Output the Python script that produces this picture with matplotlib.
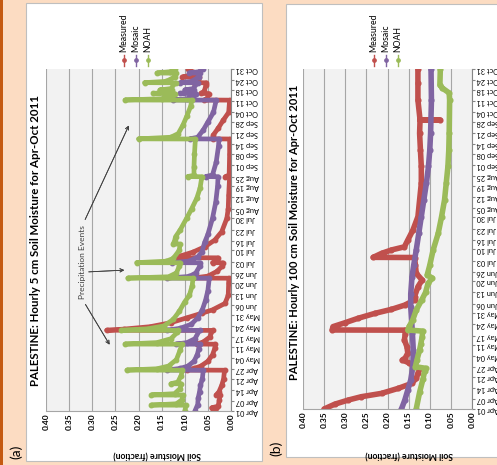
import matplotlib
matplotlib.use("Agg")
import matplotlib.pyplot as plt
from matplotlib.patches import Rectangle
from matplotlib.lines import Line2D

plt.rcParams["font.family"] = ["Lato", "DejaVu Sans"]

# time axis: days since 2011-04-01 00:00
tick_days = [0, 6, 13, 20, 26, 33, 40, 46, 53, 60, 66, 73, 80, 86, 93, 100, 106, 113, 120,
             126, 133, 140, 146, 153, 160, 166, 173, 180, 186, 193, 200, 206, 213]
tick_labels = ["Apr 01", "Apr 07", "Apr 14", "Apr 21", "Apr 27", "May 04", "May 11", "May 17",
               "May 24", "May 31", "Jun 06", "Jun 13", "Jun 20", "Jun 26", "Jul 03", "Jul 10",
               "Jul 16", "Jul 23", "Jul 30", "Aug 05", "Aug 12", "Aug 19", "Aug 25", "Sep 01",
               "Sep 08", "Sep 14", "Sep 21", "Sep 28", "Oct 04", "Oct 11", "Oct 18", "Oct 24",
               "Oct 31"]
sm_ticks = [0.0, 0.05, 0.10, 0.15, 0.20, 0.25, 0.30, 0.35, 0.40]
series_names = ["Measured", "Mosaic", "NOAH"]
colors = ["#C0504D", "#8064A2", "#9BBB59"]

# ---- 5 cm ----
meas5_t = [0, 1.9, 2.0, 3, 7, 9.9, 10.0, 12, 16, 20, 25.4, 25.5, 26.5, 28, 31, 35, 39, 41.6, 41.7,
           43, 46, 50.2, 50.3, 51, 52.5, 55, 58, 61, 63, 67, 72, 80, 82.7, 82.8, 84, 87, 90, 92.3,
           92.4, 93.5, 95.4, 95.5, 96.5, 99, 102.4, 106.5, 111.7, 120, 126, 134.5, 145.9, 146,
           147, 160, 169.4, 169.5, 172, 176, 181, 186, 193.6, 193.7, 194.5, 197.7, 197.8, 199,
           203, 204.4, 204.5, 206, 207.9, 208, 209, 211, 213]
meas5_v = [0.035, 0.033, 0.042, 0.028, 0.025, 0.024, 0.032, 0.026, 0.020, 0.016, 0.014, 0.096,
           0.080, 0.065, 0.050, 0.040, 0.035, 0.034, 0.074, 0.060, 0.046, 0.040, 0.269, 0.232,
           0.175, 0.130, 0.096, 0.062, 0.040, 0.013, 0.006, 0.005, 0.005, 0.082, 0.050, 0.030,
           0.020, 0.018, 0.040, 0.030, 0.028, 0.123, 0.110, 0.082, 0.056, 0.035, 0.020, 0.009,
           0.006, 0.005, 0.003, 0.012, 0.004, 0.003, 0.003, 0.040, 0.038, 0.028, 0.017, 0.005,
           0.003, 0.058, 0.052, 0.048, 0.065, 0.058, 0.054, 0.053, 0.080, 0.072, 0.070, 0.105,
           0.090, 0.082, 0.092]

mos5_t = [0, 4, 8, 12, 16, 20, 25.4, 25.5, 26.5, 28, 31, 35, 38.5, 41.6, 41.7, 42.6, 45, 50.2,
          50.3, 51.5, 54, 58, 63, 69, 75, 82.7, 82.8, 83.8, 86, 90, 92.3, 92.4, 93.4, 96, 99,
          105, 110, 120, 130, 140, 145.9, 146, 147, 155, 165, 169.4, 169.5, 170.5, 175, 180,
          186, 193.6, 193.7, 194.5, 196.5, 197.7, 197.8, 198.6, 199.9, 200.0, 200.8, 204.4,
          204.5, 205.3, 208, 210.4, 210.5, 211.3, 213]
mos5_v = [0.078, 0.072, 0.071, 0.068, 0.066, 0.062, 0.060, 0.139, 0.110, 0.093, 0.080, 0.073,
          0.070, 0.068, 0.118, 0.095, 0.078, 0.068, 0.139, 0.110, 0.086, 0.072, 0.062, 0.055,
          0.050, 0.047, 0.139, 0.090, 0.076, 0.068, 0.066, 0.128, 0.090, 0.072, 0.063, 0.057,
          0.050, 0.040, 0.033, 0.029, 0.028, 0.055, 0.040, 0.032, 0.027, 0.026, 0.089, 0.072,
          0.060, 0.050, 0.038, 0.032, 0.125, 0.095, 0.080, 0.076, 0.110, 0.088, 0.080, 0.100,
          0.082, 0.072, 0.110, 0.085, 0.070, 0.066, 0.090, 0.070, 0.060]

noah5_t = [0, 3.6, 3.7, 4.5, 7, 9.9, 10.0, 10.8, 14, 16.9, 17.0, 18, 22, 25.4, 25.5, 26.3, 28,
           32, 38, 41.6, 41.7, 42.6, 45, 49, 50.2, 50.3, 51.2, 53, 57, 62, 68, 72, 78, 82.7,
           82.8, 83.6, 86, 90, 92.3, 92.4, 93.3, 95, 100, 103.9, 104, 106, 108.5, 112.7, 120,
           126, 132.5, 138.7, 145.9, 146, 146.8, 152, 160, 169.4, 169.5, 170.5, 172.8, 178, 184,
           190, 193.6, 193.7, 194.5, 196.5, 197.7, 197.8, 198.6, 199.9, 200.0, 200.8, 204.4,
           204.5, 205.3, 208, 210.4, 210.5, 211.3, 213]
noah5_v = [0.100, 0.097, 0.172, 0.118, 0.106, 0.104, 0.172, 0.122, 0.110, 0.108, 0.130, 0.115,
           0.108, 0.105, 0.225, 0.160, 0.135, 0.118, 0.110, 0.106, 0.229, 0.160, 0.130, 0.116,
           0.114, 0.237, 0.180, 0.145, 0.125, 0.112, 0.100, 0.090, 0.084, 0.082, 0.223, 0.135,
           0.118, 0.112, 0.110, 0.204, 0.140, 0.125, 0.112, 0.110, 0.125, 0.122, 0.120, 0.110,
           0.096, 0.085, 0.074, 0.067, 0.063, 0.094, 0.080, 0.080, 0.079, 0.077, 0.200, 0.130,
           0.114, 0.104, 0.095, 0.087, 0.085, 0.229, 0.150, 0.125, 0.122, 0.168, 0.135, 0.128,
           0.154, 0.130, 0.120, 0.187, 0.140, 0.122, 0.120, 0.160, 0.132, 0.121]

# ---- 100 cm ----
meas100_t = [0, 3, 5.6, 7.7, 9.8, 12.9, 16, 19.2, 22.3, 25, 27, 29, 30.7, 32, 35, 39, 43.2, 47,
             49.4, 49.5, 51.6, 54, 56.8, 59.9, 62.4, 65.1, 68.3, 70.4, 76.6, 80.8, 85, 90.2, 94.9,
             95, 97.5, 99.6, 101.6, 105.8, 112, 120.5, 131, 141.4, 152, 162, 172.7, 180.9, 181,
             181.2, 193.5, 204, 213]
meas100_v = [0.350, 0.325, 0.293, 0.262, 0.214, 0.175, 0.143, 0.132, 0.128, 0.125, 0.135, 0.150,
             0.165, 0.158, 0.152, 0.154, 0.160, 0.158, 0.158, 0.331, 0.329, 0.301, 0.270, 0.230,
             0.191, 0.159, 0.136, 0.136, 0.128, 0.118, 0.132, 0.134, 0.136, 0.234, 0.214, 0.191,
             0.160, 0.152, 0.140, 0.128, 0.124, 0.120, 0.120, 0.122, 0.124, 0.123, 0.075, 0.123,
             0.128, 0.128, 0.128]

mos100_t = [0, 5.6, 11.9, 18.2, 26.5, 37, 47.4, 55.8, 64, 72, 82.9, 90, 99.6, 110, 120.5, 131,
            141.4, 152, 162, 172.7, 193.5, 213]
mos100_v = [0.167, 0.159, 0.152, 0.145, 0.140, 0.139, 0.141, 0.143, 0.145, 0.145, 0.142, 0.138,
            0.132, 0.126, 0.120, 0.114, 0.108, 0.103, 0.100, 0.098, 0.096, 0.097]

noah100_t = [0, 10.5, 18.8, 24, 25.5, 26.5, 31, 37, 41, 45.3, 48.8, 49.5, 52, 56, 62, 68.3, 73,
             78.7, 82, 84, 90, 99.6, 110, 120.5, 131, 141.4, 152, 162, 172.7, 193.5, 198, 201,
             203, 213]
noah100_v = [0.132, 0.124, 0.116, 0.112, 0.110, 0.134, 0.130, 0.124, 0.121, 0.118, 0.117, 0.152,
             0.148, 0.140, 0.132, 0.119, 0.110, 0.104, 0.094, 0.106, 0.100, 0.092, 0.080, 0.072,
             0.065, 0.061, 0.057, 0.055, 0.054, 0.053, 0.054, 0.070, 0.076, 0.075]

W, H = 497, 465
fig = plt.figure(figsize=(W / 100, H / 100), dpi=100)
fig.patch.set_facecolor("#FCDCC2")


def fx(px):
    return px / W


def fy(py):
    return 1 - py / H


def box(x0, y0, x1, y1, **kw):
    fig.add_artist(Rectangle((fx(x0), fy(y1)), (x1 - x0) / W, (y1 - y0) / H,
                             transform=fig.transFigure, zorder=-10, **kw))


box(0, 0, 3, H, fc="#C55A11", ec="none")
box(26, 3, 262, 461, fc="white", ec="#BFBFBF", lw=0.8)
box(286, 4, 505, 457, fc="white", ec="#BFBFBF", lw=0.8)


def panel(rect, data, title, title_xy, title_fs, label_xy, legend_x, lw, ms):
    ax = fig.add_axes(rect)
    ax.set_facecolor("#F2F2F2")
    for (t, v), name, col in zip(data, series_names, colors):
        ax.plot(v, t, color=col, lw=lw, marker="o", ms=ms, solid_joinstyle="round",
                solid_capstyle="round")
    ax.set_xlim(0.40, 0.0)
    ax.set_ylim(0, 213)
    ax.set_xticks(sm_ticks)
    ax.set_xticklabels(["%.2f" % s for s in sm_ticks], fontweight="bold")
    ax.set_yticks(tick_days)
    ax.set_yticklabels(tick_labels)
    ax.grid(axis="x", color="#A6A6A6", lw=0.8)
    ax.set_axisbelow(True)
    for s in ["top", "left"]:
        ax.spines[s].set_visible(False)
    ax.spines["bottom"].set_color("#A6A6A6")
    ax.spines["right"].set_color("#868686")
    ax.tick_params(axis="x", labelrotation=90, labelsize=6, length=0, pad=2)
    ax.tick_params(axis="y", left=False, labelleft=False, right=True, labelright=True,
                   labelrotation=180, labelsize=5.3, length=2.5, color="#868686", pad=1)
    fig.text(fx(title_xy[0]), fy(title_xy[1]), title, rotation=90, ha="center", va="center",
             fontsize=title_fs, fontweight="bold")
    fig.text(fx(label_xy[0]), fy(label_xy[1]), "Soil Moisture (fraction)", rotation=180,
             ha="center", va="center", fontsize=6.2, fontweight="bold")
    for x, name, col in zip(legend_x, series_names, colors):
        fig.add_artist(Line2D([fx(x), fx(x)], [fy(55), fy(66)], transform=fig.transFigure,
                              color=col, lw=1.0))
        fig.add_artist(Line2D([fx(x)], [fy(60.5)], transform=fig.transFigure, color=col,
                              marker="o", ms=2.4, lw=0))
        fig.text(fx(x), fy(52), name, rotation=90, ha="center", va="bottom", fontsize=6.3)
    return ax


ax_a = panel([fx(46), fy(411), 185 / W, 342 / H],
             [(meas5_t, meas5_v), (mos5_t, mos5_v), (noah5_t, noah5_v)],
             "PALESTINE: Hourly 5 cm Soil Moisture for Apr-Oct 2011", (36, 240), 8.3,
             (157, 454), [124, 136, 148], 3.4, 3.2)
ax_b = panel([fx(303), fy(409), 169 / W, 340 / H],
             [(meas100_t, meas100_v), (mos100_t, mos100_v), (noah100_t, noah100_v)],
             "PALESTINE: Hourly 100 cm Soil Moisture for Apr-Oct 2011", (295, 232), 8.0,
             (409, 454), [374, 386, 398], 4.0, 3.4)

# annotation for precipitation events (panel a)
fig.text(fx(83), fy(262), "Precipitation Events", rotation=90, ha="center", va="center",
         fontsize=6, color="#404040")
for (x0, y0), (x1, y1) in [((84, 222), (130, 123)), ((86, 272), (127, 270)),
                           ((84, 302), (111, 347))]:
    fig.add_artist(plt.annotate("", xy=(fx(x1), fy(y1)), xytext=(fx(x0), fy(y0)),
                                xycoords="figure fraction", textcoords="figure fraction",
                                arrowprops=dict(arrowstyle="->", color="#404040", lw=0.6,
                                                mutation_scale=6)))

fig.text(fx(16), fy(452), "(a)", rotation=90, ha="center", va="center", fontsize=10)
fig.text(fx(276), fy(448), "(b)", rotation=90, ha="center", va="center", fontsize=10)

fig.savefig("out.png", dpi=100, facecolor=fig.get_facecolor())
